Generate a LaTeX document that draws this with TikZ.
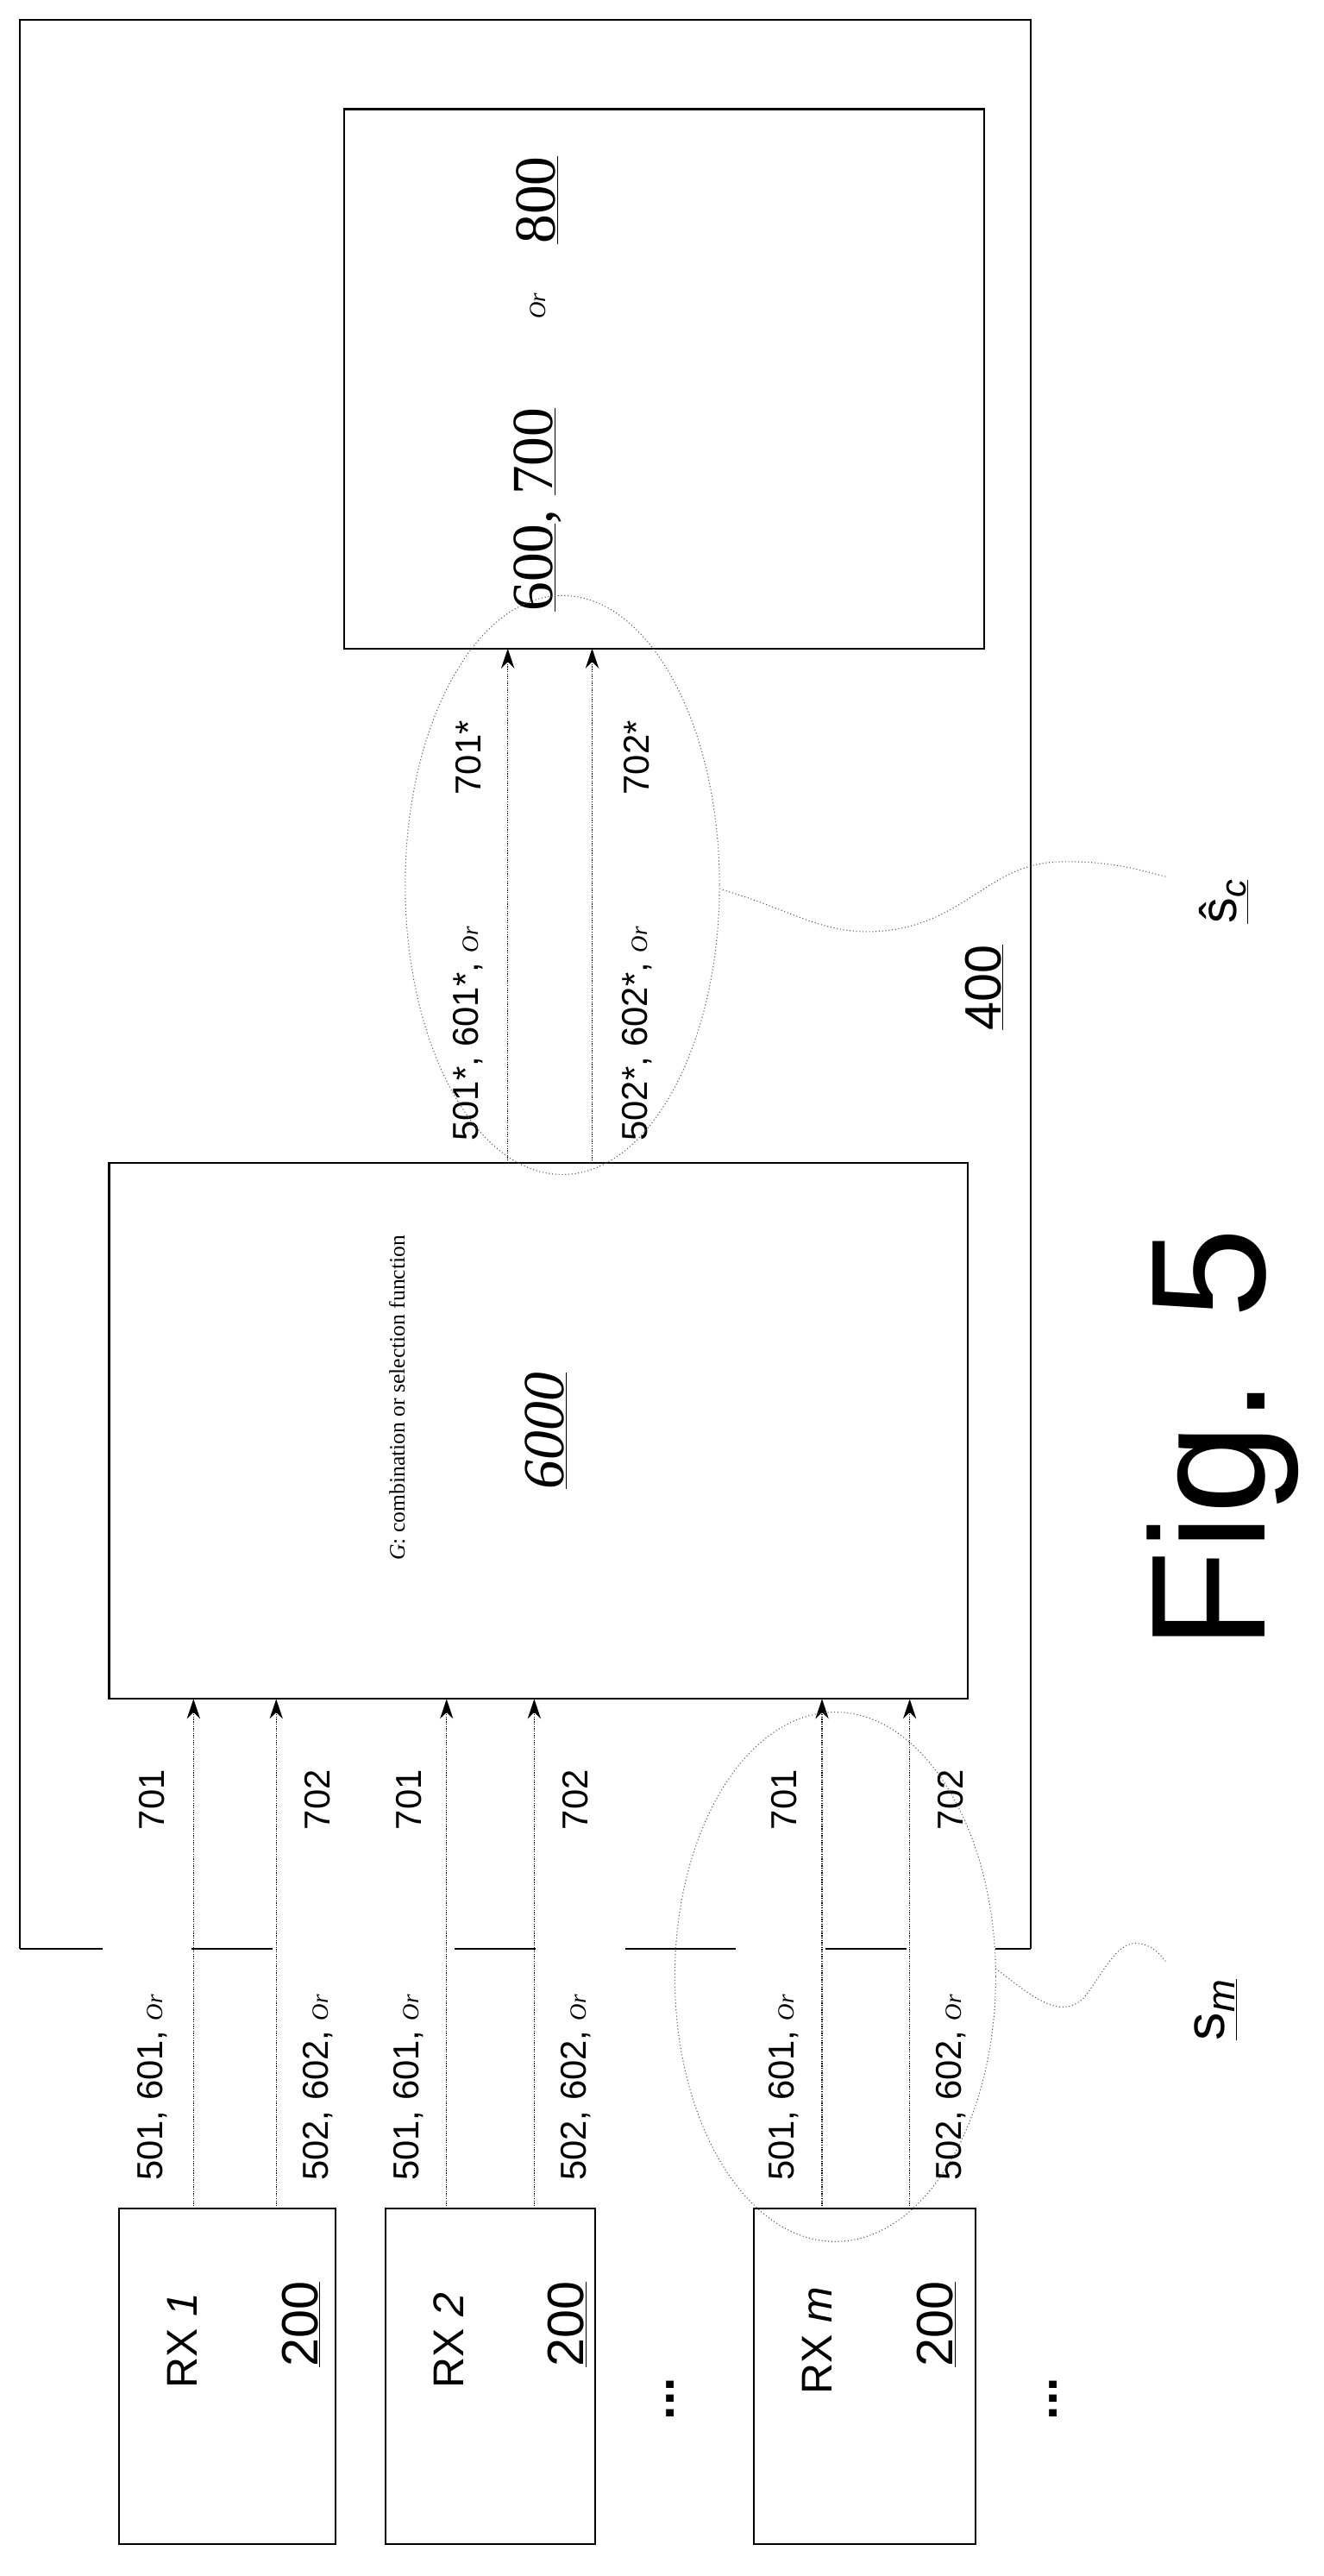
\documentclass[tikz,border=0pt]{standalone}
\usepackage{fontspec}
\setmainfont{Liberation Sans}
\newfontfamily\seriffont{Liberation Serif}
\newcommand{\orword}{{\seriffont\itshape\fontsize{20}{22}\selectfont Or}}
\usetikzlibrary{arrows.meta}

\begin{document}
\begin{tikzpicture}[x=0.5mm, y=-0.5mm,
  box/.style = {draw, line width=1.6pt},
  sig/.style = {densely dotted, line width=1pt, -{Stealth[length=6mm,width=4mm]}},
  grp/.style = {draw, dotted, line width=0.8pt, gray!70!black},
  lab/.style = {rotate=90, font=\fontsize{31}{34}\selectfont},
  num/.style = {rotate=90, font=\fontsize{44}{48}\selectfont},
  ser/.style = {rotate=90, font=\seriffont\fontsize{50}{54}\selectfont}]
  \useasboundingbox (0,0) rectangle (800,1557.2);
        % outer unit
        \draw[box] (12,1178) -- (12,12) -- (623,12) -- (623,1178);
        \foreach \a/\b in {12/62,116/165,275/324,378/445,499/548,602/623}
          \draw[box] (\a,1178) -- (\b,1178);
        \node[num] (u400) at (595,597) {\underline{400}};
        % blocks
        \draw[box] (66,703) rectangle (585,1027);
        \node[rotate=90, font=\seriffont\fontsize{19}{21}\selectfont] (gtxt) at (240,845) {\textit{G}: combination or selection function};
        \node[ser, font=\seriffont\itshape\fontsize{50}{54}\selectfont] (u6000) at (330,865) {\underline{6000}};
        \draw[box] (208,66) rectangle (595,392);
        \node[ser] (u600) at (325,308) {\underline{600}, \underline{700}};
        \node[rotate=90] (uor) at (325,185) {\orword};
        \node[ser] (u800) at (325,121) {\underline{800}};
        % receivers
        \foreach \n/\xa/\xb/\t in {rx1/72/203/\textit{1}, rx2/233/360/\textit{2}, rxm/456/590/\textit{m}} {
          \draw[box] (\xa,1335) rectangle (\xb,1538);
          \node[lab, font=\fontsize{37}{40}\selectfont] (\n) at ({\xa+38},1415) {RX \t};
          \node[num] (\n n) at ({\xa+110},1405) {\underline{200}};
        }
        \node[num, font=\bfseries\fontsize{44}{48}\selectfont] (dots1) at (405,1450) {...};
        \node[num, font=\bfseries\fontsize{44}{48}\selectfont] (dots2) at (637,1450) {...};
        % input signals
        \foreach \x/\lx/\k in {117/92/1, 167/192/2, 270/247/1, 323/348/2, 497/474/1, 550/575/2} {
          \coordinate (s\x) at (\x,1335);
          \coordinate (e\x) at (\x,1027);
          \draw[sig] (s\x) -- (e\x);
          \node[lab] (la\x) at (\lx,1262) {50\k, 60\k, \orword};
          \node[lab] (lb\x) at (\lx,1088) {70\k};
        }
        % combined signals
        \foreach \x/\lx/\k in {307/283/1, 358/385/2} {
          \coordinate (c\x) at (\x,703);
          \coordinate (d\x) at (\x,392);
          \draw[sig] (c\x) -- (d\x);
          \node[lab] (ca\x) at (\lx,625) {50\k*, 60\k*, \orword};
          \node[lab] (cb\x) at (\lx,458) {70\k*};
        }
        % groups
        \draw[grp] (340,535) ellipse (95 and 175);
        \draw[grp] (505,1195) ellipse (97 and 160);
        \draw[grp] (437,538) .. controls (480,550) and (500,568) .. (540,562)
          .. controls (585,555) and (600,522) .. (640,521) .. controls (670,520) and (690,526) .. (705,530);
        \draw[grp] (602,1190) .. controls (622,1205) and (640,1222) .. (655,1208)
          .. controls (668,1192) and (675,1172) .. (690,1175) .. controls (698,1177) and (702,1182) .. (705,1186);
        \node[num, font=\fontsize{44}{48}\selectfont] (shat) at (740,545) {\underline{ŝ\textsubscript{\textit{c}}}};
        \node[num, font=\fontsize{48}{52}\selectfont] (sm) at (735,1215) {\underline{s\textsubscript{\textit{m}}}};
        % caption
        \node[rotate=90, anchor=base, font=\fontsize{140}{144}\selectfont] (fig) at (765,870) {Fig. 5};
\end{tikzpicture}
\end{document}
